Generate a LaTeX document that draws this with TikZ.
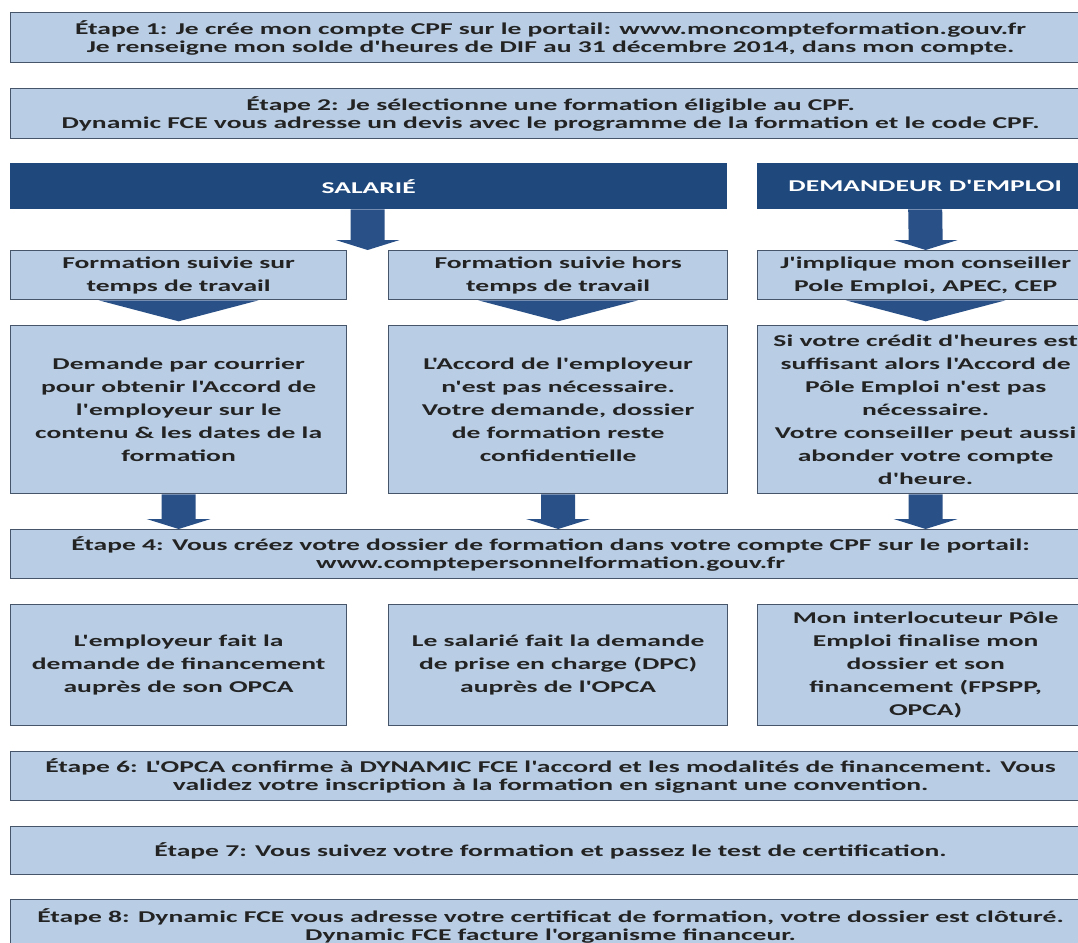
\documentclass[tikz,border=0pt]{standalone}
\usepackage{fontspec}
\setmainfont{Carlito}[FakeStretch=1.67, Ligatures=TeXOff]
\usetikzlibrary{calc,positioning}

\definecolor{boxfill}{RGB}{185,205,228}
\definecolor{boxline}{RGB}{70,85,105}
\definecolor{barblue}{RGB}{31,73,125}
\definecolor{arrblue}{RGB}{42,80,136}
\definecolor{txt}{RGB}{35,35,35}

% block arrow between two points on one vertical
\newcommand{\blockarrow}[2]{%
  \fill[arrblue] ($(#1)+(-17,0)$) -- ($(#2)+(-17,-10)$) -- ($(#2)+(-32,-10)$) -- (#2)
    -- ($(#2)+(32,-10)$) -- ($(#2)+(17,-10)$) -- ($(#1)+(17,0)$) -- cycle;}

\begin{document}
\begin{tikzpicture}[
  x=1pt, y=-1pt,
  stepbox/.style={rectangle, draw=boxline, line width=1.3pt, fill=boxfill, text=txt, inner sep=0pt,
    anchor=north west, minimum width=1080pt, align=center,
    font=\bfseries\fontsize{16.5}{18}\selectfont},
  colbox/.style={rectangle, draw=boxline, line width=1.3pt, fill=boxfill, text=txt, inner sep=0pt,
    anchor=north west, align=center, font=\bfseries\fontsize{16.5}{23}\selectfont},
  bar/.style={rectangle, fill=barblue, text=white, inner sep=0pt, anchor=north west,
    minimum height=46pt, font=\bfseries\fontsize{16.5}{18}\selectfont}
]
\useasboundingbox (0,0) rectangle (1078,942);
\clip (0,0) rectangle (1078,942);
\fill[white] (0,0) rectangle (1078,942);

\node[stepbox, minimum height=50pt] at (10,12) (e1)
  {Étape 1: Je crée mon compte CPF sur le portail: www.moncompteformation.gouv.fr\\
   Je renseigne mon solde d'heures de DIF au 31 décembre 2014, dans mon compte.};
\node[stepbox, minimum height=50pt] at (10,88) (e2)
  {Étape 2: Je sélectionne une formation éligible au CPF.\\
   Dynamic FCE vous adresse un devis avec le programme de la formation et le code CPF.};

\node[bar, minimum width=717pt] at (10,163) (sal) {SALARIÉ};
\node[bar, minimum width=336pt] at (757,163) (dem) {DEMANDEUR D'EMPLOI};

% first row of columns
\node[colbox, minimum width=336pt, minimum height=49pt] at (10,250) (r1a)
  {Formation suivie sur\\temps de travail};
\node[colbox, minimum width=339pt, minimum height=49pt] at (388,250) (r1b)
  {Formation suivie hors\\temps de travail};
\node[colbox, minimum width=336pt, minimum height=49pt] at (757,250) (r1c)
  {J'implique mon conseiller\\Pole Emploi, APEC, CEP};

% second row
\node[colbox, minimum width=336pt, minimum height=168pt] at (10,325) (r2a)
  {Demande par courrier\\pour obtenir l'Accord de\\l'employeur sur le\\contenu \& les dates de la\\formation};
\node[colbox, minimum width=339pt, minimum height=168pt] at (388,325) (r2b)
  {L'Accord de l'employeur\\n'est pas nécessaire.\\Votre demande, dossier\\de formation reste\\confidentielle};
\node[colbox, minimum width=336pt, minimum height=168pt] at (757,325) (r2c)
  {Si votre crédit d'heures est\\suffisant alors l'Accord de\\Pôle Emploi n'est pas\\nécessaire.\\Votre conseiller peut aussi\\abonder votre compte\\d'heure.};

\node[stepbox, minimum height=49pt] at (10,529) (e4)
  {Étape 4: Vous créez votre dossier de formation dans votre compte CPF sur le portail:\\
   www.comptepersonnelformation.gouv.fr};

% third row
\node[colbox, minimum width=336pt, minimum height=121pt] at (10,604) (r3a)
  {L'employeur fait la\\demande de financement\\auprès de son OPCA};
\node[colbox, minimum width=339pt, minimum height=121pt] at (388,604) (r3b)
  {Le salarié fait la demande\\de prise en charge (DPC)\\auprès de l'OPCA};
\node[colbox, minimum width=336pt, minimum height=121pt] at (757,604) (r3c)
  {Mon interlocuteur Pôle\\Emploi finalise mon\\dossier et son\\financement (FPSPP,\\OPCA)};

\node[stepbox, minimum height=49pt] at (10,751) (e6)
  {Étape 6: L'OPCA confirme à DYNAMIC FCE l'accord et les modalités de financement. Vous\\
   validez votre inscription à la formation en signant une convention.};
\node[stepbox, minimum height=48pt] at (10,826) (e7)
  {Étape 7: Vous suivez votre formation et passez le test de certification.};
\node[stepbox, minimum height=52pt] at (10,899) (e8)
  {Étape 8: Dynamic FCE vous adresse votre certificat de formation, votre dossier est clôturé.\\
   Dynamic FCE facture l'organisme financeur.};

% arrows
\coordinate (g1) at ($(r1a.north east)!0.5!(r1b.north west)$);
\blockarrow{sal.south -| g1}{g1}
\blockarrow{dem.south}{r1c.north}
\foreach \c in {a,b,c}{
  \fill[arrblue] ($(r1\c.south)+(-80,0)$) -- ($(r1\c.south)+(80,0)$) -- ($(r1\c.south)+(0,21)$) -- cycle;
  \blockarrow{r2\c.south}{e4.north -| r2\c.south}
}
\end{tikzpicture}
\end{document}
